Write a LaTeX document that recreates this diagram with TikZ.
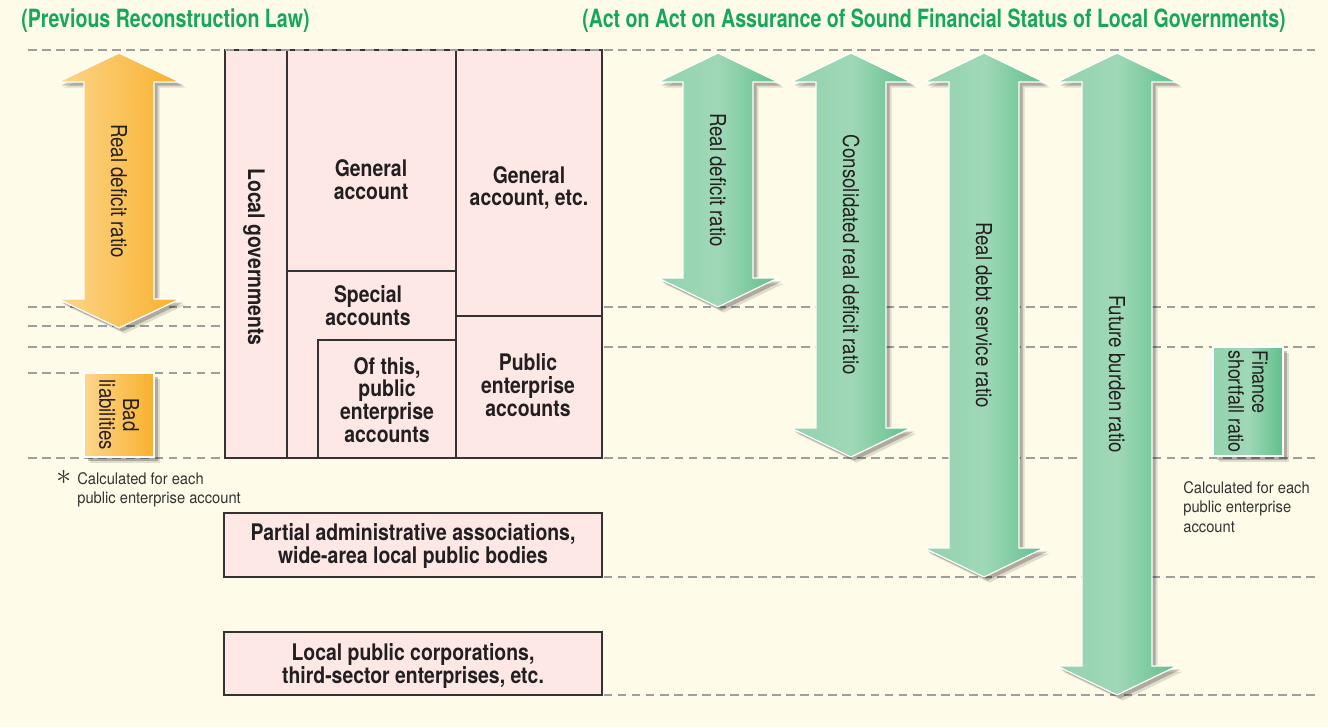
\documentclass[tikz,border=0pt]{standalone}
\usepackage{fontspec}
\setmainfont{TeX Gyre Heros}[FakeStretch=0.85]
\newfontfamily\headfont{TeX Gyre Heros}[FakeStretch=0.78]
\newfontfamily\notefont{TeX Gyre Heros}[FakeStretch=0.92]
\usetikzlibrary{positioning,shadows}
\definecolor{paper}{HTML}{FEFBE8}
\definecolor{cellpink}{HTML}{FDE8E6}
\definecolor{guidegray}{HTML}{9E9E9E}
\definecolor{lawgreen}{HTML}{17A75A}
\definecolor{inkdark}{HTML}{231F20}
\definecolor{orgA}{HTML}{FDD68C}
\definecolor{orgB}{HTML}{F8B02C}
\definecolor{grnA}{HTML}{93D2AE}
\definecolor{grnB}{HTML}{9FD8B7}
\definecolor{grnC}{HTML}{60BF8B}
\tikzset{
  guide/.style={draw=guidegray, line width=1.2pt, dash pattern=on 5pt off 3pt},
  cell/.style={draw=black!80, fill=cellpink, line width=0.6pt},
  celltxt/.style={font=\fontsize{13}{13}\selectfont\bfseries, text=inkdark,
                  align=center, inner sep=0pt},
  ratiotxt/.style={font=\fontsize{12.5}{13.5}\selectfont, text=inkdark,
                   align=center, rotate=-90, inner sep=0pt},
  shadowed/.style={drop shadow={shadow xshift=3.2pt, shadow yshift=-3.2pt,
                   opacity=.12, fill=black},
                   drop shadow={shadow xshift=2pt, shadow yshift=-2pt,
                   opacity=.22, fill=black}},
  orgfill/.style={shadowed, left color=orgA, right color=orgB, draw=white,
                  line width=0.7pt},
  grnfill/.style={shadowed, left color=grnA, right color=grnC,
                  middle color=grnB, draw=white, line width=0.7pt},
  notetxt/.style={font=\notefont\fontsize{9.1}{11.2}\selectfont,
                  text=black!80, align=left, inner sep=0pt},
  lawhead/.style={font=\headfont\bfseries\fontsize{14.3}{16}\selectfont,
                  text=lawgreen, inner sep=0pt, anchor=west},
}
\begin{document}
\begin{tikzpicture}[x=0.02cm, y=-0.02cm]
\useasboundingbox[fill=paper] (0,0) rectangle (1328,727);

\node[lawhead] (oldlaw) at (21,21) {(Previous Reconstruction Law)};
\node[lawhead] (newlaw) at (582,21)
  {(Act on Act on Assurance of Sound Financial Status of Local Governments)};

\foreach \gy in {307,347,458} \draw[guide] (28,\gy) -- (1315,\gy);
\foreach \gy in {326,373} \draw[guide] (28,\gy) -- (225,\gy);
\foreach \gy in {577,695} \draw[guide] (224,\gy) -- (1315,\gy);

\draw[cell] (225,50) rectangle (287,458);
\draw[cell] (287,50) rectangle (456,271);
\draw[cell] (287,271) rectangle (456,458);
\draw[cell] (318,340) rectangle (456,458);
\draw[cell] (456,50) rectangle (602,316);
\draw[cell] (456,316) rectangle (602,458);
\draw[cell] (224,513) rectangle (602,577);
\draw[cell] (224,632) rectangle (602,695);
\draw[guide] (28,50) -- (1315,50);

\node[celltxt, rotate=-90] (locgov) at (254,257) {Local governments};
\node[celltxt] (genacc) at (371,180) {General\\account};
\node[celltxt] (genetc) at (529,188) {General\\account, etc.};
\node[celltxt] (specacc) at (368,306) {Special\\accounts};
\node[celltxt] (ofthis) at (387,400) {Of this,\\public\\enterprise\\accounts};
\node[celltxt] (pubent) at (528,385) {Public\\enterprise\\accounts};
\node[celltxt] (partial) at (413,546)
  {Partial administrative associations,\\wide-area local public bodies};
\node[celltxt] (corps) at (413,666)
  {Local public corporations,\\third-sector enterprises, etc.};

\path[orgfill] (119,53) -- ++(61,29) -- ++(-26,0) -- (154,299) -- ++(26,0)
  -- (119,328) -- ++(-61,-29) -- ++(26,0) -- (84,82) -- ++(-26,0) -- cycle;
\node[ratiotxt] (oldrdr) at (119,191) {Real deficit ratio};

\path[orgfill] (84,373) rectangle (154,457);
\node[ratiotxt] (badliab) at (119,415) {Bad\\liabilities};

\foreach \cx/\yb/\nm/\txt in {718/307/rdr/Real deficit ratio,
    851/457/crdr/Consolidated real deficit ratio,
    984/577/rdsr/Real debt service ratio,
    1117/695/fbr/Future burden ratio} {
  \path[grnfill] (\cx,53) -- ++(60,29) -- ++(-25,0) -- (\cx+35,\yb-29)
    -- ++(25,0) -- (\cx,\yb) -- ++(-60,-29) -- ++(25,0) -- (\cx-35,82)
    -- ++(-25,0) -- cycle;
  \node[ratiotxt] (\nm) at (\cx,{(53+\yb)/2}) {\txt};
}

\path[grnfill] (1213,347) rectangle (1283,456);
\node[ratiotxt, align=left, font=\fontsize{12}{13.5}\selectfont] (fsr)
  at (1248,401.5) {Finance\\shortfall ratio};

\node[notetxt, anchor=north west] (leftnote) at (77,472)
  {Calculated for each\\public enterprise account};
\node[font=\fontsize{16}{16}\selectfont, text=black!80, inner sep=0pt,
      left=3pt of leftnote.north west, anchor=north east, yshift=1pt]
  (star) {$\ast$};
\node[notetxt, anchor=north west] (rightnote) at (1183,481)
  {Calculated for each\\public enterprise\\account};

\end{tikzpicture}
\end{document}
